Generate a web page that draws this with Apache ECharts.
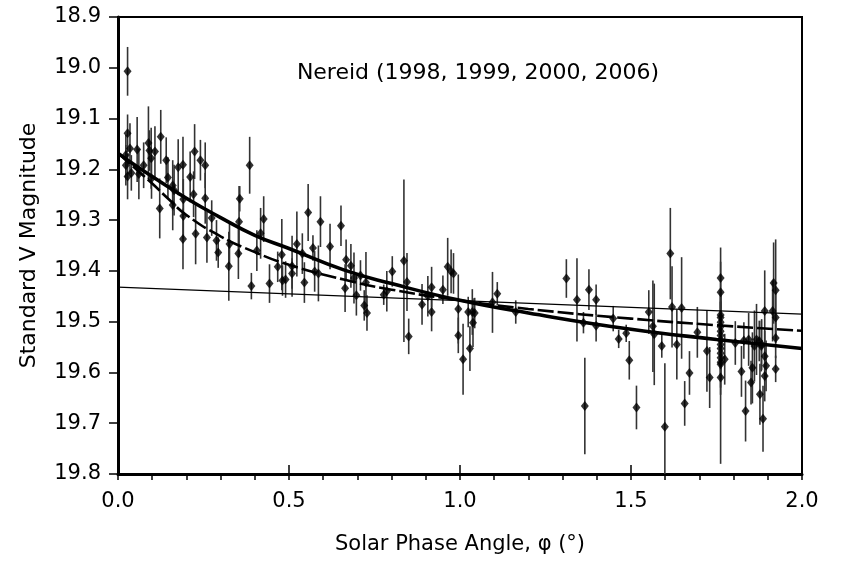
<!DOCTYPE html>
<html>
<head>
<meta charset="utf-8">
<script src="https://cdn.jsdelivr.net/npm/echarts@6/dist/echarts.min.js"></script>
<style>
html,body{margin:0;padding:0;background:#fff;}
#chart{width:851px;height:563px;}
</style>
</head>
<body>
<div id="chart"></div>
<script>
// ---- data ----
const phaseAngle = [
0.028,0.028,0.035,0.023,0.023,0.028,0.039,0.056,0.061,0.075,
0.089,0.092,0.097,0.098,0.108,0.125,0.122,0.141,0.146,0.160,
0.164,0.160,0.176,0.190,0.191,0.191,0.190,0.211,0.221,0.224,
0.227,0.241,0.255,0.255,0.260,0.274,0.288,0.293,0.324,0.326,
0.354,0.356,0.352,0.385,0.390,0.426,0.417,0.406,0.443,0.467,
0.479,0.481,0.490,0.509,0.509,0.523,0.539,0.545,0.556,0.570,
0.575,0.586,0.592,0.620,0.652,0.667,0.681,0.664,0.690,0.697,
0.709,0.720,0.725,0.728,0.777,0.786,0.802,0.836,0.845,0.850,
0.889,0.906,0.917,0.917,0.950,0.964,0.974,0.981,0.995,0.995,
1.009,1.024,1.029,1.036,1.038,1.043,1.095,1.109,1.163,1.311,
1.342,1.361,1.365,1.377,1.398,1.398,1.448,1.464,1.486,1.495,
1.516,1.552,1.564,1.568,1.590,1.599,1.615,1.620,1.634,1.648,
1.657,1.671,1.694,1.722,1.730,
1.762,1.762,1.762,1.762,1.762,1.762,1.762,1.762,1.762,1.762,
1.762,1.762,1.762,1.762,1.762,1.762,
1.774,1.805,1.823,1.830,1.835,1.844,1.851,1.855,1.861,1.867,
1.877,1.886,1.881,1.891,1.891,1.895,1.875,1.882,1.891,1.917,
1.923,1.923,1.923,1.923,1.914
];
const magnitude = [
19.007,19.129,19.159,19.172,19.192,19.214,19.207,19.161,19.209,19.192,
19.148,19.163,19.178,19.218,19.165,19.136,19.277,19.182,19.216,19.232,
19.241,19.270,19.196,19.191,19.259,19.292,19.337,19.215,19.249,19.165,
19.327,19.182,19.192,19.257,19.334,19.296,19.340,19.364,19.391,19.347,
19.303,19.258,19.366,19.192,19.430,19.298,19.326,19.360,19.425,19.392,
19.368,19.419,19.417,19.391,19.405,19.347,19.366,19.423,19.285,19.355,
19.401,19.405,19.303,19.352,19.311,19.378,19.390,19.434,19.414,19.448,
19.409,19.468,19.423,19.483,19.447,19.440,19.401,19.380,19.422,19.529,
19.466,19.450,19.432,19.481,19.437,19.392,19.401,19.405,19.475,19.527,
19.574,19.481,19.553,19.481,19.502,19.483,19.462,19.445,19.481,19.415,
19.457,19.502,19.666,19.437,19.457,19.508,19.494,19.534,19.523,19.576,
19.669,19.481,19.509,19.525,19.548,19.707,19.366,19.471,19.545,19.473,
19.661,19.601,19.521,19.558,19.610,
19.414,19.442,19.487,19.492,19.501,19.510,19.519,19.527,19.536,19.545,
19.553,19.562,19.571,19.580,19.584,19.610,
19.574,19.542,19.598,19.537,19.676,19.535,19.620,19.591,19.548,19.535,
19.643,19.691,19.548,19.479,19.568,19.587,19.538,19.545,19.607,19.424,
19.438,19.492,19.532,19.593,19.479
];
const magError = [
0.048,0.037,0.050,0.040,0.040,0.045,0.035,0.064,0.050,0.045,
0.072,0.040,0.060,0.040,0.050,0.053,0.059,0.045,0.040,0.050,
0.050,0.050,0.055,0.055,0.040,0.045,0.060,0.050,0.045,0.054,
0.060,0.040,0.045,0.050,0.050,0.035,0.040,0.030,0.068,0.040,
0.070,0.025,0.050,0.056,0.026,0.045,0.050,0.040,0.038,0.030,
0.070,0.030,0.036,0.060,0.030,0.064,0.040,0.040,0.056,0.025,
0.040,0.055,0.050,0.045,0.040,0.040,0.043,0.047,0.050,0.040,
0.030,0.030,0.060,0.035,0.020,0.040,0.030,0.160,0.057,0.035,
0.040,0.040,0.040,0.038,0.028,0.057,0.043,0.040,0.068,0.035,
0.070,0.030,0.044,0.045,0.048,0.030,0.060,0.023,0.023,0.038,
0.082,0.021,0.095,0.040,0.030,0.031,0.025,0.018,0.017,0.038,
0.043,0.043,0.090,0.100,0.023,0.125,0.090,0.080,0.069,0.100,
0.044,0.043,0.050,0.080,0.060,
0.060,0.060,0.050,0.050,0.040,0.050,0.040,0.050,0.040,0.050,
0.040,0.050,0.040,0.050,0.060,0.170,
0.050,0.043,0.050,0.036,0.060,0.052,0.043,0.070,0.070,0.070,
0.060,0.065,0.050,0.080,0.050,0.050,0.040,0.050,0.050,0.080,
0.100,0.050,0.040,0.026,0.060
];
// fitted curves
const fitSolidX = [0,0.05,0.1,0.2,0.3,0.4,0.5,0.66,0.8,1.0,1.2,1.5,1.75,2.0];
const fitSolidY = [19.168,19.192,19.214,19.257,19.295,19.330,19.356,19.398,19.425,19.458,19.483,19.515,19.535,19.553];
const fitDashX = [0,0.05,0.1,0.15,0.2,0.3,0.4,0.5,0.66,0.8,1.0,1.2,1.5,1.75,2.0];
const fitDashY = [19.168,19.198,19.228,19.260,19.290,19.332,19.363,19.388,19.417,19.437,19.458,19.475,19.494,19.507,19.518];
const linearX = [0,2.0];
const linearY = [19.432,19.485];
const xTicks = [0.0,0.5,1.0,1.5,2.0];
const yTicks = [18.9,19.0,19.1,19.2,19.3,19.4,19.5,19.6,19.7,19.8];

// ---- build ----
const pts = phaseAngle.map((x,i)=>[x,magnitude[i],magError[i]]);
const zip = (a,b)=>a.map((v,i)=>[v,b[i]]);
const FONT = '"DejaVu Sans", sans-serif';
const chart = echarts.init(document.getElementById('chart'), null, {renderer:'canvas'});
chart.setOption({
  animation:false,
  backgroundColor:'#fff',
  title:{
    text:'Nereid (1998, 1999, 2000, 2006)',
    left:473, top:57, textAlign:'center',
    textStyle:{fontFamily:FONT,fontSize:22,fontWeight:'normal',color:'#000'}
  },
  grid:{left:118,right:49,top:17,bottom:89,show:true,borderColor:'#000',borderWidth:2,backgroundColor:'transparent'},
  xAxis:[{
    type:'value',min:xTicks[0],max:xTicks[xTicks.length-1],interval:0.5,
    name:'Solar Phase Angle, \u03c6 (\u00b0)',nameLocation:'middle',nameGap:60,
    nameTextStyle:{fontFamily:FONT,fontSize:21,color:'#000'},
    axisLine:{show:true,lineStyle:{color:'#000',width:3}},
    axisTick:{show:true,inside:true,length:9,lineStyle:{color:'#000',width:1.5}},
    axisLabel:{fontFamily:FONT,fontSize:21,color:'#000',margin:17,formatter:v=>v.toFixed(1)},
    splitLine:{show:false}
  },{
    type:'value',min:0,max:2,interval:0.1,position:'bottom',
    axisLine:{show:false},axisLabel:{show:false},splitLine:{show:false},
    axisTick:{show:true,length:6,lineStyle:{color:'#000',width:1.5}}
  }],
  yAxis:{
    type:'value',inverse:true,min:yTicks[0],max:yTicks[yTicks.length-1],interval:0.1,
    name:'Standard V Magnitude',nameLocation:'middle',nameGap:78,
    nameTextStyle:{fontFamily:FONT,fontSize:22,color:'#000'},
    axisLine:{show:true,lineStyle:{color:'#000',width:3}},
    axisTick:{show:true,length:9,lineStyle:{color:'#000',width:1.5}},
    axisLabel:{fontFamily:FONT,fontSize:21,color:'#000',margin:17,formatter:v=>v.toFixed(1)},
    splitLine:{show:false}
  },
  series:[
    {
      type:'custom',clip:true,xAxisIndex:0,
      renderItem:(params,api)=>{
        const x=api.value(0),y=api.value(1),e=api.value(2);
        const p1=api.coord([x,y-e]),p2=api.coord([x,y+e]);
        return {type:'line',shape:{x1:p1[0],y1:p1[1],x2:p2[0],y2:p2[1]},
          style:{stroke:'#333',lineWidth:1.6}};
      },
      data:pts,z:2
    },
    {type:'line',data:zip(linearX,linearY),showSymbol:false,symbol:'none',
      lineStyle:{color:'#000',width:1.2},z:3},
    {type:'line',data:zip(fitDashX,fitDashY),smooth:true,showSymbol:false,symbol:'none',
      lineStyle:{color:'#000',width:2.6,type:[16,4]},z:3},
    {type:'line',data:zip(fitSolidX,fitSolidY),smooth:true,showSymbol:false,symbol:'none',
      lineStyle:{color:'#000',width:3.6},z:3},
    {type:'scatter',data:pts.map(p=>[p[0],p[1]]),symbol:'diamond',symbolSize:[8,10],
      itemStyle:{color:'#000'},z:4}
  ]
});
</script>
</body>
</html>
